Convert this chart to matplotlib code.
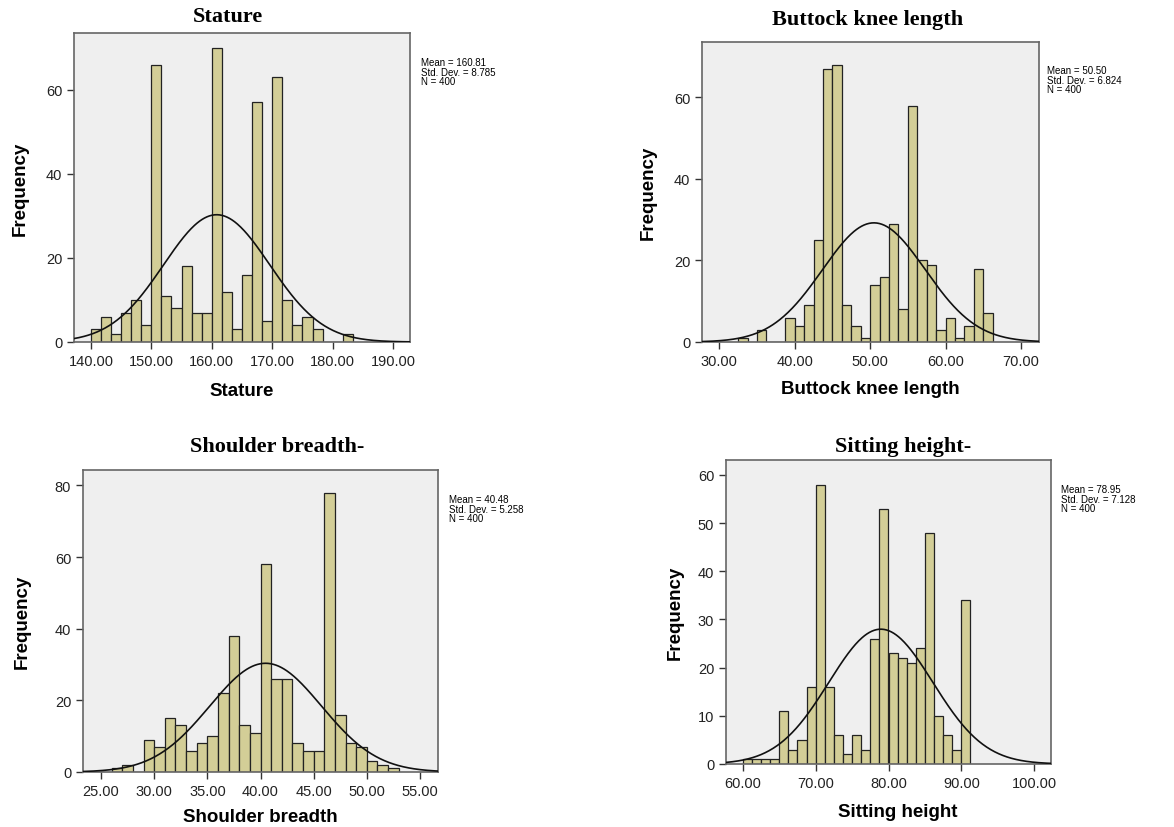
import numpy as np
import matplotlib
matplotlib.use("Agg")
import matplotlib.pyplot as plt

# histogram counts (400 subjects)
stature_counts = [3, 6, 2, 7, 10, 4, 66, 11, 8, 18, 7, 7, 70, 12, 3, 16, 57, 5, 63, 10, 4, 6, 3, 0, 0, 2]
stature_start, stature_width = 140.0, 5 / 3
stature_mean, stature_sd = 160.81, 8.785

buttock_counts = [1, 0, 3, 0, 0, 6, 4, 9, 25, 67, 68, 9, 4, 1, 14, 16, 29, 8, 58, 20, 19, 3, 6, 1, 4, 18, 7]
buttock_start, buttock_width = 32.5, 1.25
buttock_mean, buttock_sd = 50.50, 6.824

shoulder_counts = [1, 2, 0, 9, 7, 15, 13, 6, 8, 10, 22, 38, 13, 11, 58, 26, 26, 8, 6, 6, 78, 16, 8, 7, 3, 2, 1]
shoulder_start, shoulder_width = 26.0, 1.0
shoulder_mean, shoulder_sd = 40.48, 5.258

sitting_counts = [1, 1, 1, 1, 11, 3, 5, 16, 58, 16, 6, 2, 6, 3, 26, 53, 23, 22, 21, 24, 48, 10, 6, 3, 34]
sitting_start, sitting_width = 60.0, 1.25
sitting_mean, sitting_sd = 78.95, 7.128

N = 400

W, H = 1174, 828
fig = plt.figure(figsize=(W / 100, H / 100), dpi=100)
fig.patch.set_facecolor("white")

sans = "Liberation Sans"
serif = "Liberation Serif"


def panel(box, counts, start, width, mean, sd, xlim, ylim, xticks, yticks,
          title, title_xy, xlabel, xlabel_xy, ylabel_x, stats_xy):
    l, t, r, b = box
    ax = fig.add_axes([l / W, 1 - b / H, (r - l) / W, (b - t) / H])
    ax.set_facecolor("#efefef")
    edges = start + width * np.arange(len(counts))
    ax.bar(edges, counts, width=width, align="edge", color="#d3ce97",
           edgecolor="#222222", linewidth=0.9, zorder=2)
    xs = np.linspace(xlim[0], xlim[1], 400)
    ys = N * width / (sd * np.sqrt(2 * np.pi)) * np.exp(-0.5 * ((xs - mean) / sd) ** 2)
    ax.plot(xs, ys, color="#111111", lw=1.2, zorder=3)
    ax.set_xlim(*xlim)
    ax.set_ylim(*ylim)
    ax.set_xticks(xticks)
    ax.set_xticklabels(["%.2f" % v for v in xticks])
    ax.set_yticks(yticks)
    ax.set_yticklabels([str(v) for v in yticks])
    ax.tick_params(direction="out", length=5, width=1, colors="#333333",
                   labelsize=10.5, top=False, right=False)
    for lab in ax.get_xticklabels() + ax.get_yticklabels():
        lab.set_fontfamily(sans)
        lab.set_color("#222222")
    for s in ax.spines.values():
        s.set_color("#666666")
        s.set_linewidth(1.2)
    fig.text(title_xy[0] / W, 1 - title_xy[1] / H, title, ha="center", va="center",
             fontsize=16, fontweight="bold", family=serif)
    fig.text(xlabel_xy[0] / W, 1 - xlabel_xy[1] / H, xlabel, ha="center", va="center",
             fontsize=13.5, fontweight="bold", family=sans)
    fig.text(ylabel_x / W, 1 - ((t + b) / 2) / H, "Frequency", ha="center", va="center",
             rotation=90, fontsize=13.5, fontweight="bold", family=sans)
    fig.text(stats_xy[0] / W, 1 - stats_xy[1] / H,
             "Mean = %s\nStd. Dev. = %s\nN = %d" % (mean_txt[title], sd_txt[title], N),
             ha="left", va="top", fontsize=7, family=sans, linespacing=0.95)
    return ax


mean_txt = {"Stature": "160.81", "Buttock knee length": "50.50",
            "Shoulder breadth-": "40.48", "Sitting height-": "78.95"}
sd_txt = {"Stature": "8.785", "Buttock knee length": "6.824",
          "Shoulder breadth-": "5.258", "Sitting height-": "7.128"}

panel((74, 34, 410, 343), stature_counts, stature_start, stature_width,
      stature_mean, stature_sd, (137.2, 192.8), (0, 73.5),
      [140, 150, 160, 170, 180, 190], [0, 20, 40, 60],
      "Stature", (228, 17), "Stature", (242, 392), 20, (421, 58))

panel((702, 43, 1039, 343), buttock_counts, buttock_start, buttock_width,
      buttock_mean, buttock_sd, (27.7, 72.4), (0, 73.6),
      [30, 40, 50, 60, 70], [0, 20, 40, 60],
      "Buttock knee length", (868, 20), "Buttock knee length", (870, 390), 648, (1047, 66))

panel((83, 471, 438, 773), shoulder_counts, shoulder_start, shoulder_width,
      shoulder_mean, shoulder_sd, (23.3, 56.7), (0, 84.3),
      [25, 30, 35, 40, 45, 50, 55], [0, 20, 40, 60, 80],
      "Shoulder breadth-", (277, 447), "Shoulder breadth", (260, 818), 22, (449, 495))

panel((726, 461, 1051, 765), sitting_counts, sitting_start, sitting_width,
      sitting_mean, sitting_sd, (57.7, 102.3), (0, 63.1),
      [60, 70, 80, 90, 100], [0, 10, 20, 30, 40, 50, 60],
      "Sitting height-", (903, 447), "Sitting height", (898, 813), 675, (1061, 485))

fig.savefig("out.png", dpi=100)
